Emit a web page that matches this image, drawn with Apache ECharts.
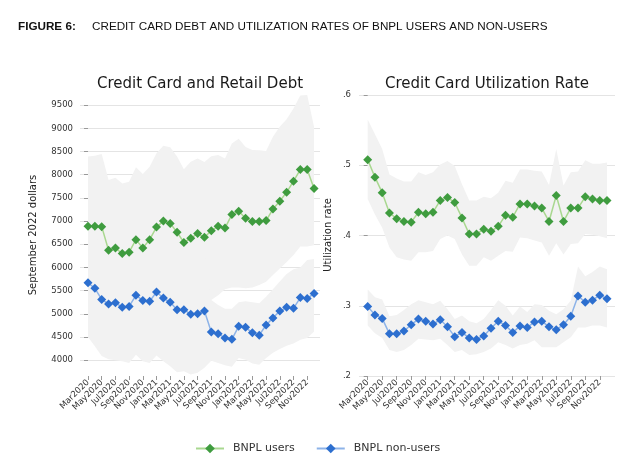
<!DOCTYPE html>
<html><head><meta charset="utf-8">
<script src="https://cdn.jsdelivr.net/npm/echarts@6/dist/echarts.min.js"></script>
<style>html,body{margin:0;padding:0;background:#fff}#c{width:640px;height:467px}</style>
</head><body><div id="c"></div>
<script>
// ---- data ----
const months = ['Mar2020','Apr2020','May2020','Jun2020','Jul2020','Aug2020','Sep2020','Oct2020','Nov2020','Dec2020',
  'Jan2021','Feb2021','Mar2021','Apr2021','May2021','Jun2021','Jul2021','Aug2021','Sep2021','Oct2021','Nov2021','Dec2021',
  'Jan2022','Feb2022','Mar2022','Apr2022','May2022','Jun2022','Jul2022','Aug2022','Sep2022','Oct2022','Nov2022','Dec2022'];
const monthTickLabels = ['Mar2020','May2020','Jul2020','Sep2020','Nov2020','Jan2021','Mar2021','May2021','Jul2021','Sep2021','Nov2021','Jan2022','Mar2022','May2022','Jul2022','Sep2022','Nov2022'];
const debtTicks = [4000,4500,5000,5500,6000,6500,7000,7500,8000,8500,9000,9500];
const utilTicks = [0.2,0.3,0.4,0.5,0.6];

const debtUsers   = [6890,6890,6880,6370,6420,6300,6330,6600,6420,6600,6870,7000,6950,6760,6540,6630,6730,6650,6790,6890,6850,7140,7210,7060,6990,6990,7010,7260,7430,7620,7860,8110,8110,7700];
const debtUsersHi = [8390,8410,8445,7885,7935,7810,7850,8160,8015,8170,8460,8625,8590,8390,8120,8280,8350,8275,8400,8425,8350,8675,8775,8600,8530,8525,8510,8820,9035,9195,9430,9710,9720,9035];
const debtUsersLo = [5850,5850,5850,5350,5400,5300,5350,5600,5400,5550,5800,5900,5850,5700,5500,5600,5650,5600,5300,5400,5530,5570,5570,5550,5570,5620,5690,5840,5980,6120,6270,6450,6450,6480];
const debtNon     = [5670,5550,5310,5210,5240,5140,5160,5400,5290,5270,5470,5340,5250,5090,5090,4990,5000,5060,4610,4570,4480,4450,4730,4710,4590,4540,4760,4910,5060,5140,5120,5350,5330,5440];
const debtNonHi   = [6740,6650,6520,6430,6450,6400,6420,6600,6500,6550,6740,6650,6560,6420,6400,6330,6330,6380,5300,5190,5110,5110,5250,5270,5250,5230,5370,5530,5700,5860,5960,6000,6160,6180];
const debtNonLo   = [4500,4300,4090,4020,4000,3980,3940,4120,3980,3940,4100,3980,3870,3740,3760,3690,3730,3840,3990,3940,3890,3860,4050,4010,3930,3900,4050,4160,4240,4310,4360,4440,4480,4620];

const utilUsers   = [.508,.483,.461,.432,.424,.420,.419,.433,.431,.433,.450,.454,.447,.425,.402,.402,.409,.406,.413,.429,.426,.445,.445,.442,.439,.420,.457,.420,.439,.439,.455,.452,.450,.450];
const utilUsersHi = [.565,.544,.523,.487,.481,.477,.477,.490,.486,.490,.501,.506,.499,.473,.450,.450,.455,.453,.461,.478,.475,.494,.494,.492,.491,.472,.523,.471,.490,.491,.507,.502,.502,.504];
const utilUsersLo = [.452,.430,.411,.383,.369,.366,.364,.376,.376,.378,.395,.400,.395,.373,.357,.357,.369,.364,.371,.378,.377,.397,.396,.393,.390,.371,.389,.373,.388,.389,.402,.401,.399,.396];
const utilNon     = [.299,.287,.282,.260,.260,.264,.273,.281,.278,.274,.280,.270,.256,.262,.254,.252,.257,.268,.278,.272,.262,.271,.269,.277,.278,.270,.266,.273,.285,.314,.305,.308,.315,.310];
const utilNonHi   = [.323,.312,.309,.285,.287,.294,.302,.308,.305,.302,.307,.295,.281,.286,.278,.275,.281,.294,.308,.300,.286,.299,.291,.302,.301,.293,.288,.295,.307,.356,.342,.348,.356,.352];
const utilNonLo   = [.272,.261,.254,.237,.234,.237,.244,.253,.252,.251,.253,.244,.234,.237,.230,.231,.234,.239,.248,.244,.239,.244,.246,.251,.241,.241,.241,.248,.255,.269,.269,.272,.272,.269];

// ---- styling ----
const FONT = 'DejaVu Sans';
const BAND = '#f2f2f2';
const GREEN = '#3f9c3f', GREEN_L = '#a9d890';
const BLUE = '#2d6fcf', BLUE_L = '#8db3e8';
const monthTickIdx = monthTickLabels.map(m => months.indexOf(m));

const chart = echarts.init(document.getElementById('c'), null, {renderer: 'canvas'});

function band(name, lo, hi, gi) {
  return {
    type: 'custom', name: name, xAxisIndex: gi, yAxisIndex: gi, silent: true, z: 1,
    data: lo.map((v, i) => [i, v, hi[i]]),
    encode: {x: 0, y: [1, 2]},
    renderItem: function (params, api) {
      if (params.dataIndex !== 0) return null;
      const pts = [];
      for (let i = 0; i < lo.length; i++) pts.push(api.coord([i, hi[i]]));
      for (let i = lo.length - 1; i >= 0; i--) pts.push(api.coord([i, lo[i]]));
      return {type: 'polygon', shape: {points: pts}, style: {fill: BAND, stroke: null}};
    }
  };
}
function line(name, vals, gi, c, lc) {
  return {
    type: 'line', name: name, xAxisIndex: gi, yAxisIndex: gi, z: 3,
    data: vals.map((v, i) => [i, v]),
    symbol: 'diamond', symbolSize: 9,
    itemStyle: {color: c}, lineStyle: {color: lc, width: 1.5},
    emphasis: {disabled: true}
  };
}
function xAx(gi, min, max) {
  return {
    gridIndex: gi, type: 'value', min: min, max: max,
    axisLine: {show: false}, splitLine: {show: false},
    axisTick: {show: true, customValues: monthTickIdx, length: 4, lineStyle: {color: '#999'}},
    axisLabel: {customValues: monthTickIdx, formatter: v => months[v], rotate: 45, fontSize: 8.5,
      color: '#333', fontFamily: FONT, margin: 5}
  };
}
function yAx(gi, min, max, ticks, fmt, margin) {
  return {
    gridIndex: gi, type: 'value', min: min, max: max,
    axisLine: {show: false},
    axisTick: {show: true, customValues: ticks, length: 4, lineStyle: {color: '#999'}},
    axisLabel: {customValues: ticks, formatter: fmt, fontSize: 8.5, color: '#333', fontFamily: FONT, margin: margin},
    splitLine: {show: true, lineStyle: {color: '#e4e4e4', width: 1}}
  };
}

chart.setOption({
  animation: false,
  backgroundColor: '#fff',
  grid: [
    {left: 80, top: 94, width: 240, height: 282},
    {left: 359, top: 95, width: 256, height: 281}
  ],
  xAxis: [xAx(0, -1.17, 33.87), xAx(1, -1.2, 34.1)],
  yAxis: [
    yAx(0, 3660, 9740, debtTicks, v => String(v), 7),
    yAx(1, 0.2, 0.6, utilTicks, v => v.toFixed(1).replace(/^0/, ''), 8)
  ],
  legend: {
    data: ['BNPL users', 'BNPL non-users'], left: 190, top: 438, itemWidth: 28, itemHeight: 12, itemGap: 21,
    textStyle: {fontSize: 11, fontFamily: FONT, color: '#333', padding: [0, 0, 0, 4]}
  },
  graphic: [
    {type: 'text', left: 18, top: 21, style: {text: 'FIGURE 6:', font: 'bold 11.7px "Liberation Sans"', fill: '#111'}},
    {type: 'text', left: 92, top: 21, style: {text: 'CREDIT CARD DEBT AND UTILIZATION RATES OF BNPL USERS AND NON-USERS', font: '11.7px "Liberation Sans"', fill: '#111'}},
    {type: 'text', x: 200, y: 84, style: {text: 'Credit Card and Retail Debt', font: '15px "DejaVu Sans"', fill: '#1a1a1a', textAlign: 'center', textVerticalAlign: 'middle'}},
    {type: 'text', x: 487, y: 84, style: {text: 'Credit Card Utilization Rate', font: '15px "DejaVu Sans"', fill: '#1a1a1a', textAlign: 'center', textVerticalAlign: 'middle'}},
    {type: 'text', x: 33, y: 235, rotation: Math.PI / 2, style: {text: 'September 2022 dollars', font: '10px "DejaVu Sans"', fill: '#222', textAlign: 'center', textVerticalAlign: 'middle'}},
    {type: 'text', x: 328, y: 235, rotation: Math.PI / 2, style: {text: 'Utilization rate', font: '10px "DejaVu Sans"', fill: '#222', textAlign: 'center', textVerticalAlign: 'middle'}}
  ],
  series: [
    band('bandUsersDebt', debtUsersLo, debtUsersHi, 0),
    band('bandNonDebt', debtNonLo, debtNonHi, 0),
    band('bandUsersUtil', utilUsersLo, utilUsersHi, 1),
    band('bandNonUtil', utilNonLo, utilNonHi, 1),
    line('BNPL users', debtUsers, 0, GREEN, GREEN_L),
    line('BNPL non-users', debtNon, 0, BLUE, BLUE_L),
    line('BNPL users', utilUsers, 1, GREEN, GREEN_L),
    line('BNPL non-users', utilNon, 1, BLUE, BLUE_L)
  ]
});
</script></body></html>
